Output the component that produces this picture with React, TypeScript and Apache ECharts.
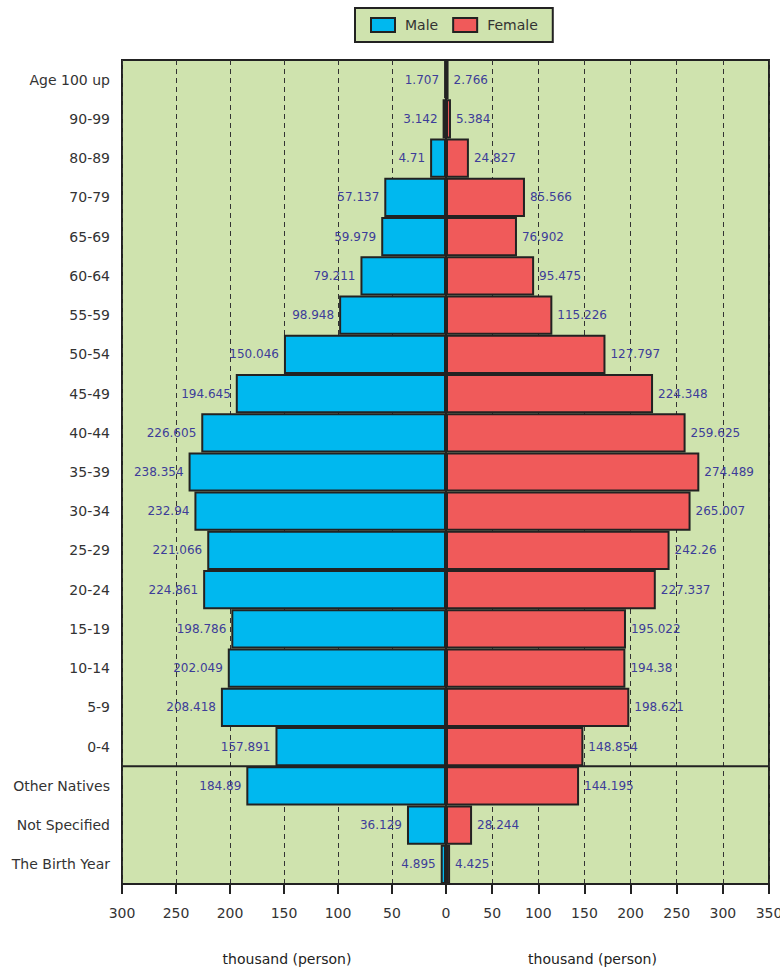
import React, { useEffect, useRef } from "react";
import * as echarts from "echarts";

const categories = [
  "Age 100 up", "90-99", "80-89", "70-79", "65-69", "60-64", "55-59", "50-54",
  "45-49", "40-44", "35-39", "30-34", "25-29", "20-24", "15-19", "10-14",
  "5-9", "0-4", "Other Natives", "Not Specified", "The Birth Year",
];

// bar lengths as drawn (thousand persons)
const maleValues = [
  1.707, 3.142, 14.71, 57.137, 59.979, 79.211, 98.948, 150.046, 194.645, 226.605,
  238.354, 232.94, 221.066, 224.861, 198.786, 202.049, 208.418, 157.891, 184.89, 36.129, 4.895,
];
const femaleValues = [
  2.766, 5.384, 24.827, 85.566, 76.902, 95.475, 115.226, 172.797, 224.348, 259.625,
  274.489, 265.007, 242.26, 227.337, 195.022, 194.38, 198.621, 148.854, 144.195, 28.244, 4.425,
];
// labels as printed on the chart
const maleLabels = [
  "1.707", "3.142", "4.71", "57.137", "59.979", "79.211", "98.948", "150.046", "194.645", "226.605",
  "238.354", "232.94", "221.066", "224.861", "198.786", "202.049", "208.418", "157.891", "184.89", "36.129", "4.895",
];
const femaleLabels = [
  "2.766", "5.384", "24.827", "85.566", "76.902", "95.475", "115.226", "127.797", "224.348", "259.625",
  "274.489", "265.007", "242.26", "227.337", "195.022", "194.38", "198.621", "148.854", "144.195", "28.244", "4.425",
];
// the horizontal separator sits between these two categories
const separatorAbove = "0-4";
const separatorBelow = "Other Natives";

const FONT = "DejaVu Sans";
const DARK = "#222222";
const GREEN = "#cfe3ae";
const BLUE = "#00b8ef";
const RED = "#f05a5a";
const LABEL = "#3d3d99";

export default function App() {
  const ref = useRef<HTMLDivElement>(null);
  useEffect(() => {
    if (!ref.current) return;
    const chart = echarts.init(ref.current, null, { renderer: "svg" });
    const xCommon = (max: number, hideZero: boolean) => ({
      type: "value",
      min: 0,
      max,
      interval: 50,
      axisLine: { show: true, lineStyle: { color: DARK, width: 2 } },
      axisTick: { show: true, length: 10, lineStyle: { color: DARK, width: 2 } },
      axisLabel: {
        fontSize: 14,
        fontFamily: FONT,
        color: "#333",
        margin: 22,
        formatter: (v: number) => (hideZero && v === 0 ? "" : String(v)),
      },
      splitLine: { show: true, lineStyle: { color: "#333", width: 1, type: [5, 4] } },
      name: "thousand (person)",
      nameLocation: "middle",
      nameGap: 68,
    });
    chart.setOption({
      animation: false,
      textStyle: { fontFamily: FONT },
      legend: {
        data: ["Male", "Female"],
        left: 355,
        top: 8,
        backgroundColor: GREEN,
        borderColor: DARK,
        borderWidth: 2,
        borderRadius: 0,
        padding: [9, 15],
        itemWidth: 24,
        itemHeight: 14,
        itemGap: 14,
        icon: "rect",
        textStyle: { fontSize: 14, fontFamily: FONT, color: "#333", padding: [0, 0, 0, 5] },
      },
      grid: [
        { left: 122, right: 334, top: 60, bottom: 87, outerBoundsMode: "none", containLabel: false, show: true, backgroundColor: GREEN, borderColor: DARK, borderWidth: 2 },
        { left: 446, right: 11, top: 60, bottom: 87, outerBoundsMode: "none", containLabel: false, show: true, backgroundColor: GREEN, borderColor: DARK, borderWidth: 2 },
      ],
      xAxis: [
        { ...xCommon(300, false), gridIndex: 0, inverse: true, nameTextStyle: { fontSize: 14, fontFamily: FONT, color: "#222", padding: [0, 0, 0, 6] } },
        { ...xCommon(350, true), gridIndex: 1, nameTextStyle: { fontSize: 14, fontFamily: FONT, color: "#222", padding: [0, 30, 0, 0] } },
      ],
      yAxis: [
        {
          type: "category",
          gridIndex: 0,
          data: categories,
          inverse: true,
          axisLine: { show: true, lineStyle: { color: DARK, width: 2 } },
          axisTick: { show: false },
          axisLabel: { fontSize: 14, fontFamily: FONT, color: "#333", margin: 12, interval: 0 },
          splitLine: { show: false },
        },
        {
          type: "category",
          gridIndex: 1,
          data: categories,
          inverse: true,
          axisLine: { show: false },
          axisTick: { show: false },
          axisLabel: { show: false },
          splitLine: { show: false },
        },
      ],
      series: [
        {
          name: "Male",
          type: "bar",
          xAxisIndex: 0,
          yAxisIndex: 0,
          data: maleValues,
          barCategoryGap: "0%",
          itemStyle: { color: BLUE, borderColor: DARK, borderWidth: 2 },
          label: {
            show: true,
            position: "left",
            distance: 5,
            fontSize: 12,
            fontFamily: FONT,
            color: LABEL,
            formatter: (p: any) => maleLabels[p.dataIndex],
          },
        },
        {
          name: "Female",
          type: "bar",
          xAxisIndex: 1,
          yAxisIndex: 1,
          data: femaleValues,
          barCategoryGap: "0%",
          itemStyle: { color: RED, borderColor: DARK, borderWidth: 2 },
          label: {
            show: true,
            position: "right",
            distance: 5,
            fontSize: 12,
            fontFamily: FONT,
            color: LABEL,
            formatter: (p: any) => femaleLabels[p.dataIndex],
          },
        },
      ],
    });
    const yA = chart.convertToPixel({ yAxisIndex: 0 }, separatorAbove) as number;
    const yB = chart.convertToPixel({ yAxisIndex: 0 }, separatorBelow) as number;
    const x0 = chart.convertToPixel({ xAxisIndex: 0 }, 300) as number;
    const x1 = chart.convertToPixel({ xAxisIndex: 1 }, 350) as number;
    const ySep = (yA + yB) / 2;
    chart.setOption({
      graphic: [
        {
          type: "line",
          z: 100,
          shape: { x1: x0, y1: ySep, x2: x1, y2: ySep },
          style: { stroke: DARK, lineWidth: 2 },
        },
      ],
    });
    return () => chart.dispose();
  }, []);
  return (
    <div
      ref={ref}
      style={{ position: "fixed", left: 0, top: 0, width: 780, height: 971, background: "#fff" }}
    />
  );
}
